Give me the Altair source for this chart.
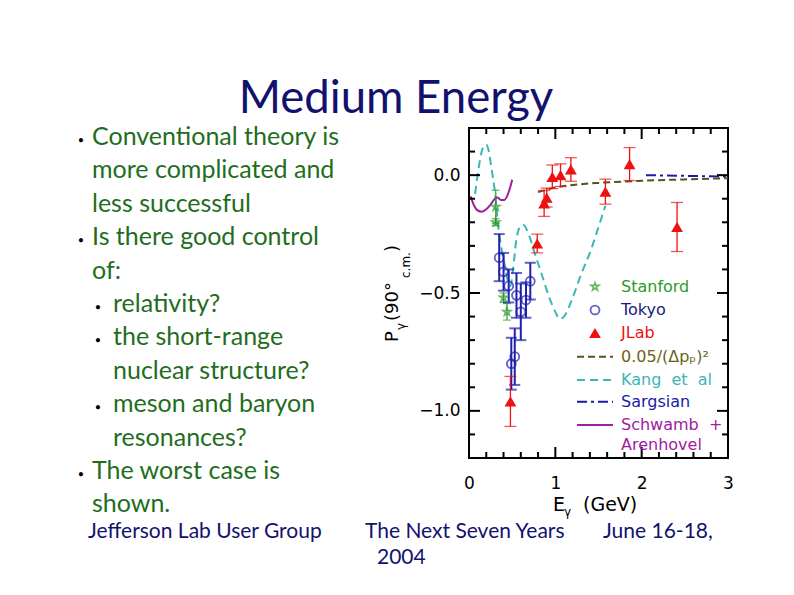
import altair as alt
import pandas as pd

# ---------------- data ----------------
jlab_E   = [0.48, 0.79, 0.87, 0.90, 0.965, 1.06, 1.18, 1.58, 1.86, 2.41]
jlab_P   = [-0.96, -0.29, -0.12, -0.095, -0.007, 0.0, 0.024, -0.07, 0.047, -0.22]
jlab_err = [0.106, 0.04, 0.055, 0.04, 0.05, 0.048, 0.05, 0.053, 0.07, 0.104]

tokyo_E   = [0.35, 0.40, 0.46, 0.55, 0.60, 0.66, 0.71, 0.49, 0.53]
tokyo_P   = [-0.35, -0.41, -0.47, -0.51, -0.58, -0.53, -0.45, -0.80, -0.77]
tokyo_err = [0.10, 0.08, 0.07, 0.095, 0.12, 0.075, 0.078, 0.11, 0.12]

stan_E   = [0.31, 0.31, 0.40, 0.44]
stan_P   = [-0.134, -0.20, -0.52, -0.58]
stan_err = [0.07, 0.015, 0.02, 0.035]

kang_E = [0.07, 0.10, 0.13, 0.16, 0.20, 0.23, 0.26, 0.30, 0.34, 0.38, 0.42, 0.45, 0.48,
          0.51, 0.55, 0.59, 0.63, 0.68, 0.76, 0.85, 0.93, 1.00, 1.05, 1.10, 1.20, 1.30,
          1.42, 1.50, 1.58]
kang_P = [-0.08, 0.0, 0.07, 0.115, 0.13, 0.10, 0.03, -0.07, -0.22, -0.32, -0.39, -0.45, -0.47,
          -0.40, -0.27, -0.22, -0.21, -0.24, -0.33, -0.43, -0.52, -0.58, -0.61, -0.60, -0.52, -0.42,
          -0.31, -0.22, -0.13]

schw_E = [0.02, 0.06, 0.10, 0.15, 0.20, 0.25, 0.30, 0.33, 0.37, 0.41, 0.44, 0.47, 0.50]
schw_P = [-0.09, -0.13, -0.15, -0.155, -0.145, -0.125, -0.10, -0.095, -0.105, -0.105, -0.09, -0.06, -0.02]

sarg_E = [2.05, 2.5, 3.0]
sarg_P = [0.0, -0.003, -0.006]

scal_E = [0.8, 1.0, 1.25, 1.5, 2.0, 2.5, 3.0]
scal_P = [-0.072, -0.052, -0.040, -0.033, -0.024, -0.018, -0.013]

x_labels = [0, 1, 2, 3]
y_labels = [-1.0, -0.5, 0.0]
x_minor = [0.2, 0.4, 0.6, 0.8, 1.2, 1.4, 1.6, 1.8, 2.2, 2.4, 2.6, 2.8]
x_major = [1, 2]
y_minor = [-1.1, -0.9, -0.8, -0.7, -0.6, -0.4, -0.3, -0.2, -0.1, 0.1]
y_major = [-1.0, -0.5, 0.0]

title_text = "Medium Energy"
bullets1 = ["Conventional theory is", "more complicated and", "less successful",
            "Is there good control", "of:"]
bullets2 = ["relativity?", "the short-range", "nuclear structure?",
            "meson and baryon", "resonances?"]
bullets3 = ["The worst case is", "shown."]
footer = ["Jefferson Lab User Group", "The Next Seven Years", "June 16-18,", "2004"]

legend_names = ["Stanford", "Tokyo", "JLab", "0.05/(\u0394p\u209a)\u00b2", "Kang\u00a0\u00a0et\u00a0\u00a0al",
                "Sargsian", "Schwamb\u00a0\u00a0+", "Arenhovel"]

# ---------------- styling ----------------
W, H = 259, 330
RED = "#ee1111"
BLUE = "#1f1fb0"
NAVY = "#1a1a80"
GREEN = "#2a9a2a"
CYAN = "#3cb6b6"
PURPLE = "#a0209f"
OLIVE = "#5a5020"
SLIDE_GREEN = "#1e6e1e"
SLIDE_NAVY = "#12126e"
STAR = ("M0,-1L0.2245,-0.309L0.9511,-0.309L0.3633,0.118L0.5878,0.809L0,0.382"
        "L-0.5878,0.809L-0.3633,0.118L-0.9511,-0.309L-0.2245,-0.309Z")

xs = alt.Scale(domain=[0, 3], nice=False, zero=False)
ys = alt.Scale(domain=[-1.2, 0.2], nice=False, zero=False)
xaxis = alt.Axis(values=x_labels, format="d", ticks=False, domain=False, grid=False,
                 labelFontSize=17, labelPadding=17, labelFlush=False, labelOverlap=False,
                 labelFont="DejaVu Sans", labelColor="black", title=None)
yaxis = alt.Axis(values=y_labels, format=".1f", ticks=False, domain=False, grid=False,
                 labelFontSize=17, labelPadding=9, labelFlush=False, labelOverlap=False,
                 labelFont="DejaVu Sans", labelColor="black", title=None)


def X(f):
    return alt.X(f, type="quantitative", scale=xs, axis=xaxis)


def Y(f):
    return alt.Y(f, type="quantitative", scale=ys, axis=yaxis)


def frame(E, P, err=None):
    d = pd.DataFrame({"E": E, "P": P})
    if err is not None:
        d["lo"] = [p - e for p, e in zip(P, err)]
        d["hi"] = [p + e for p, e in zip(P, err)]
    return d


jlab = frame(jlab_E, jlab_P, jlab_err)
tokyo = frame(tokyo_E, tokyo_P, tokyo_err)
stan = frame(stan_E, stan_P, stan_err)

layers = []

# theory curves
layers.append(alt.Chart(frame(kang_E, kang_P)).mark_line(
    color=CYAN, strokeWidth=2, strokeDash=[8, 5], interpolate="monotone", clip=True
).encode(x=X("E"), y=Y("P")))
layers.append(alt.Chart(frame(schw_E, schw_P)).mark_line(
    color=PURPLE, strokeWidth=2, interpolate="monotone"
).encode(x=X("E"), y=Y("P")))
layers.append(alt.Chart(frame(sarg_E, sarg_P)).mark_line(
    color="#1a1aa8", strokeWidth=2, strokeDash=[10, 4, 3, 4]
).encode(x=X("E"), y=Y("P")))
layers.append(alt.Chart(frame(scal_E, scal_P)).mark_line(
    color=OLIVE, strokeWidth=2, strokeDash=[7, 4], interpolate="monotone"
).encode(x=X("E"), y=Y("P")))


def errbars(df, color, width, cap):
    bar = alt.Chart(df).mark_rule(color=color, strokeWidth=width).encode(
        x=X("E"), y=Y("lo"), y2="hi")
    c1 = alt.Chart(df).mark_tick(color=color, orient="horizontal", size=cap,
                                 thickness=width).encode(x=X("E"), y=Y("lo"))
    c2 = alt.Chart(df).mark_tick(color=color, orient="horizontal", size=cap,
                                 thickness=width).encode(x=X("E"), y=Y("hi"))
    return [bar, c1, c2]


layers += errbars(stan, GREEN, 1.2, 8)
layers += errbars(tokyo, BLUE, 2, 11)
layers += errbars(jlab, RED, 1.3, 12)

layers.append(alt.Chart(stan).mark_point(shape=STAR, size=70, color=GREEN, filled=False,
                                         strokeWidth=1.6).encode(x=X("E"), y=Y("P")))
layers.append(alt.Chart(tokyo).mark_point(shape="circle", size=80, color=BLUE, filled=False,
                                          strokeWidth=1.8).encode(x=X("E"), y=Y("P")))
layers.append(alt.Chart(jlab).mark_point(shape="triangle-up", size=140, color=RED, filled=True,
                                         opacity=1).encode(x=X("E"), y=Y("P")))

# axis ticks drawn inward on all four sides
for vals, ln in [(y_minor, 6), (y_major, 11)]:
    d = pd.DataFrame({"v": vals})
    layers.append(alt.Chart(d).mark_rule(color="black", strokeWidth=2).encode(
        y=Y("v"), x=alt.value(0), x2=alt.value(ln)))
    layers.append(alt.Chart(d).mark_rule(color="black", strokeWidth=2).encode(
        y=Y("v"), x=alt.value(W), x2=alt.value(W - ln)))
for vals, ln in [(x_minor, 6), (x_major, 11)]:
    d = pd.DataFrame({"v": vals})
    layers.append(alt.Chart(d).mark_rule(color="black", strokeWidth=2).encode(
        x=X("v"), y=alt.value(H), y2=alt.value(H - ln)))
    layers.append(alt.Chart(d).mark_rule(color="black", strokeWidth=2).encode(
        x=X("v"), y=alt.value(0), y2=alt.value(ln)))

one = pd.DataFrame({"k": [0]})


def txt(text, x, y, size, color, font="Lato", align="left", baseline="alphabetic",
        angle=0, **kw):
    return alt.Chart(one).mark_text(text=text, fontSize=size, color=color, font=font,
                                    align=align, baseline=baseline, angle=angle, **kw
                                    ).encode(x=alt.value(x), y=alt.value(y))


# legend (inside plot)
leg_y = [158.7, 182, 205, 228.7, 252, 273.7, 297, 317]
leg_c = [GREEN, NAVY, RED, "#6b6418", CYAN, "#1a1aa8", PURPLE, PURPLE]
for name, yy, cc in zip(legend_names, leg_y, leg_c):
    layers.append(txt(name, 152, yy, 16, cc, font="DejaVu Sans", baseline="middle"))
layers.append(alt.Chart(one).mark_point(shape=STAR, size=70, color=GREEN, filled=False,
                                        strokeWidth=1.6).encode(x=alt.value(126), y=alt.value(leg_y[0])))
layers.append(alt.Chart(one).mark_point(shape="circle", size=80, color=BLUE, filled=False,
                                        strokeWidth=1.8).encode(x=alt.value(126), y=alt.value(leg_y[1])))
layers.append(alt.Chart(one).mark_point(shape="triangle-up", size=140, color=RED, filled=True,
                                        opacity=1).encode(x=alt.value(126), y=alt.value(leg_y[2])))
for yy, cc, dash in [(leg_y[3], OLIVE, [7, 4]), (leg_y[4], CYAN, [8, 5]),
                     (leg_y[5], "#1a1aa8", [10, 4, 3, 4]), (leg_y[6], PURPLE, [1, 0])]:
    layers.append(alt.Chart(one).mark_rule(color=cc, strokeWidth=2, strokeDash=dash).encode(
        x=alt.value(108), x2=alt.value(144), y=alt.value(yy)))

# axis titles
layers.append(txt("E", 84, 383, 19, "black", font="DejaVu Sans"))
layers.append(txt("\u03b3", 95, 388, 12, "black", font="DejaVu Sans"))
layers.append(txt("(GeV)", 114, 383, 19, "black", font="DejaVu Sans"))
layers.append(txt("P", -71, 214, 18, "black", font="DejaVu Sans", angle=270))
layers.append(txt("\u03b3", -64, 202, 12, "black", font="DejaVu Sans", angle=270))
layers.append(txt("(90\u00b0", -71, 193, 18, "black", font="DejaVu Sans", angle=270))
layers.append(txt("c.m.", -59, 150, 12, "black", font="DejaVu Sans", angle=270))
layers.append(txt(")", -71, 124, 18, "black", font="DejaVu Sans", angle=270))

# slide text
layers.append(txt(title_text, -73, -15, 45.5, SLIDE_NAVY, align="center"))
layers.append(txt(bullets1, -377, 17, 25, SLIDE_GREEN, lineHeight=33.4))
layers.append(txt(bullets2, -356, 184, 25, SLIDE_GREEN, lineHeight=33.4))
layers.append(txt(bullets3, -377, 351, 25, SLIDE_GREEN, lineHeight=33.4))
for bx, by in [(-388, 17), (-388, 117), (-371, 184), (-371, 217), (-371, 284), (-388, 351)]:
    layers.append(txt("\u2022", bx, by - 1, 11, "black", align="center"))
layers.append(txt(footer[0], -381, 410, 21, SLIDE_NAVY))
layers.append(txt(footer[1], -104, 410, 21, SLIDE_NAVY))
layers.append(txt(footer[2], 134, 410, 21, SLIDE_NAVY))
layers.append(txt(footer[3], -92, 436, 21, SLIDE_NAVY))

chart = alt.layer(*layers).properties(
    width=W, height=H,
    autosize=alt.AutoSizeParams(type="none"),
    padding={"left": 461, "top": 120, "right": 58, "bottom": 110},
    background="white",
).configure_view(stroke="black", strokeWidth=2)

chart.save("out.html", embed_options={"renderer": "svg", "actions": False})
